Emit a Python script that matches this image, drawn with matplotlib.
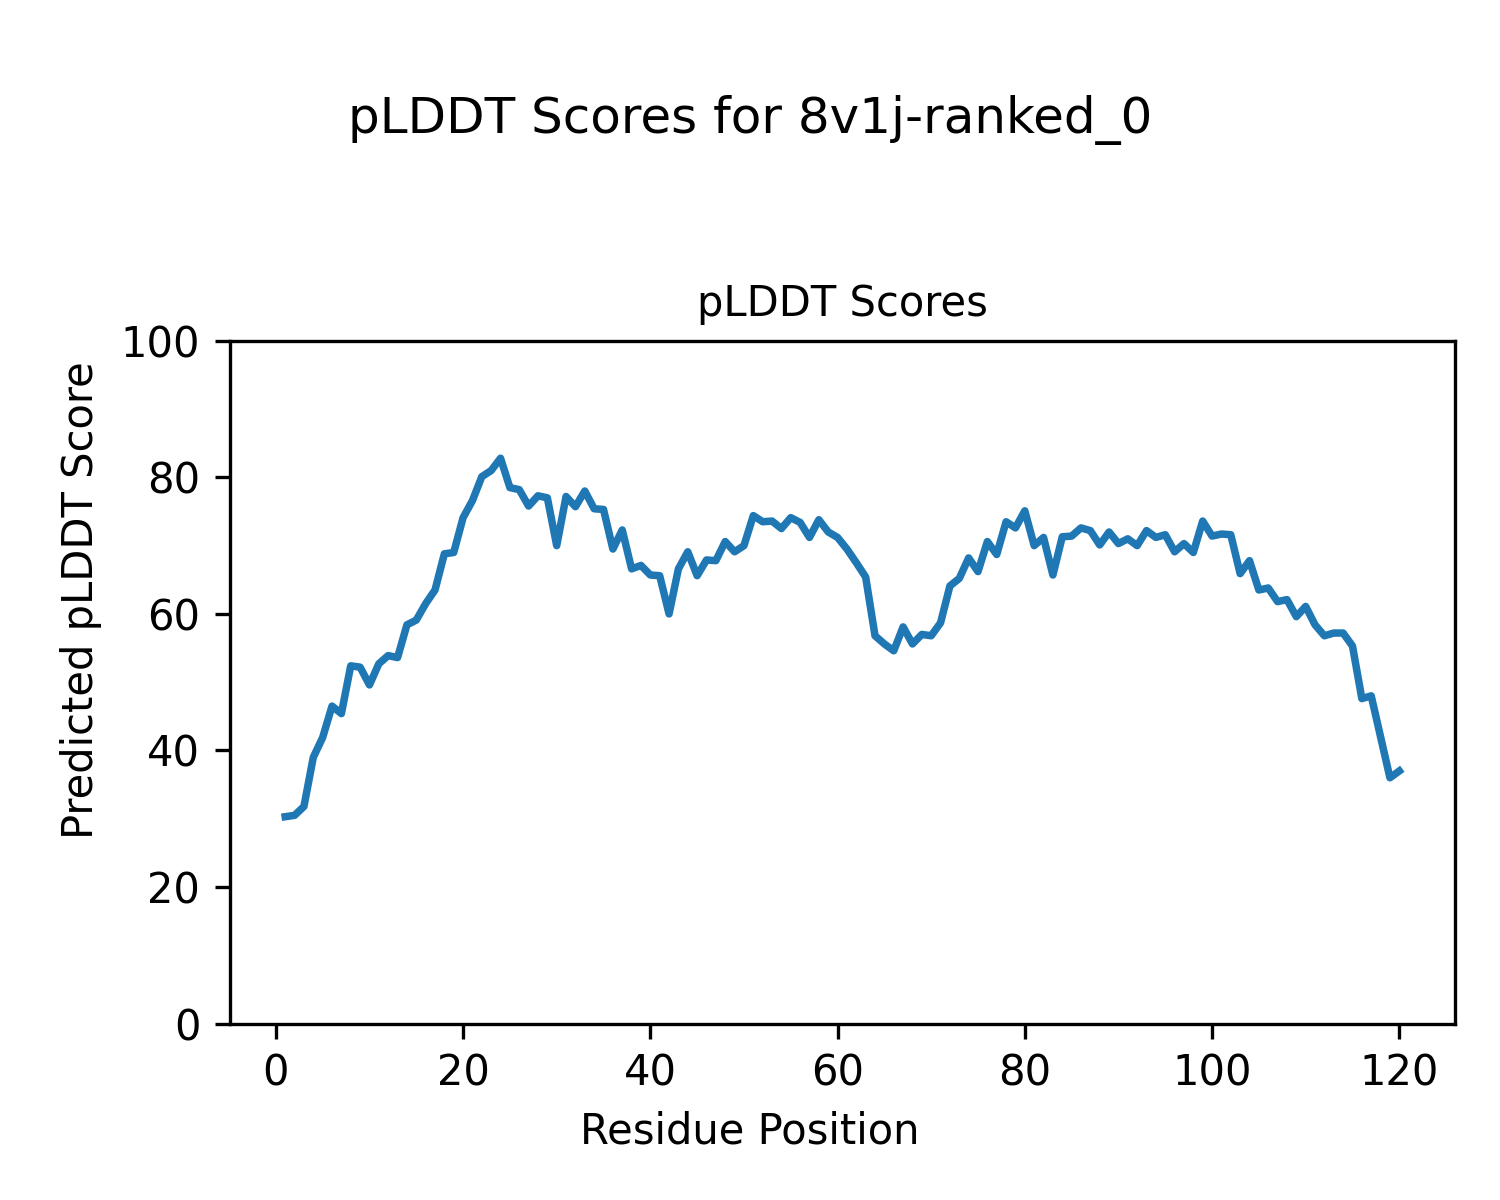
import matplotlib
matplotlib.use('Agg')
import matplotlib.pyplot as plt

residues = list(range(1, 121))
plddt = [
    30.3, 30.5, 31.8, 39.0, 41.9, 46.5, 45.4, 52.4, 52.2, 49.6,
    52.7, 53.9, 53.6, 58.4, 59.1, 61.5, 63.5, 68.8, 69.0, 74.1,
    76.6, 80.1, 81.0, 82.8, 78.5, 78.2, 75.8, 77.3, 77.0, 70.0,
    77.2, 75.7, 78.0, 75.4, 75.3, 69.5, 72.3, 66.6, 67.1, 65.7,
    65.6, 60.0, 66.6, 69.1, 65.6, 67.9, 67.8, 70.6, 69.1, 70.0,
    74.4, 73.5, 73.6, 72.5, 74.1, 73.4, 71.2, 73.8, 72.0, 71.2,
    69.5, 67.5, 65.4, 56.8, 55.6, 54.6, 58.1, 55.6, 57.0, 56.8,
    58.7, 64.1, 65.2, 68.2, 66.2, 70.6, 68.7, 73.5, 72.6, 75.1,
    70.0, 71.2, 65.7, 71.3, 71.4, 72.6, 72.2, 70.1, 72.0, 70.3,
    71.0, 70.0, 72.2, 71.2, 71.6, 69.1, 70.3, 69.0, 73.6, 71.4,
    71.7, 71.6, 65.9, 67.8, 63.5, 63.8, 61.8, 62.1, 59.6, 61.1,
    58.4, 56.8, 57.2, 57.2, 55.3, 47.6, 48.0, 42.0, 36.0, 37.0,
]

fig, ax = plt.subplots(figsize=(5, 4), dpi=300)
fig.subplots_adjust(left=0.153, right=0.970, bottom=0.147, top=0.716)

ax.plot(residues, plddt, color='#1f77b4', linewidth=1.8)
ax.set_ylim(0, 100)
ax.set_title('pLDDT Scores', fontsize=10)

# labels are figure-level, centred on the whole figure
fig.supxlabel('Residue Position', fontsize=10, y=1 - 1144 / 1200, va='baseline')
fig.supylabel('Predicted pLDDT Score', fontsize=10, x=60 / 1500, ha='left')
fig.suptitle('pLDDT Scores for 8v1j-ranked_0', fontsize=12, y=1 - 133 / 1200, va='baseline')

fig.savefig('out.png', dpi=300)
